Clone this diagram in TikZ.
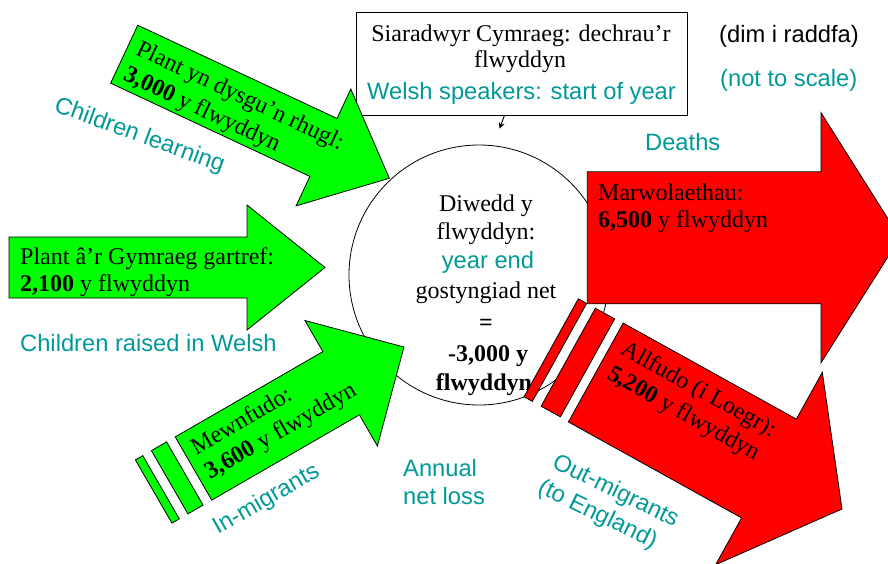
\documentclass[tikz,border=0pt]{standalone}
\usepackage{fontspec}
\setmainfont{Liberation Serif}
\setsansfont{Liberation Sans}
\usetikzlibrary{arrows.meta}
\definecolor{arrowgreen}{RGB}{0,255,0}
\definecolor{arrowred}{RGB}{255,0,0}
\definecolor{tealtxt}{RGB}{0,153,153}
\newcommand\fatarrow[5]{\draw[#1] (0,-#2) -- (#3,-#2) -- (#3,-#4) -- (#5,0) -- (#3,#4) -- (#3,#2) -- (0,#2) -- cycle;}
\tikzset{
  outline/.style={draw=black, line width=0.8pt, line join=miter},
  greenarrow/.style={outline, fill=arrowgreen},
  redarrow/.style={outline, fill=arrowred},
  cy/.style={font=\fontsize{24}{28}\selectfont, inner sep=0pt, text=black},
  en/.style={font=\sffamily\fontsize{23.7}{28}\selectfont, inner sep=0pt, text=tealtxt},
  note/.style={font=\sffamily\fontsize{23.7}{28}\selectfont, inner sep=0pt, text=black},
}
\begin{document}
\begin{tikzpicture}[x=1pt,y=-1pt]
\useasboundingbox (0,0) rectangle (888,563);
\clip (0,0) rectangle (888,563);
% central pool
\node[draw, line width=0.8pt, circle, minimum size=260pt, inner sep=0pt, fill=white] (pool) at (479,275) {};
\node[cy, anchor=base] (c1) at (486,211.7) {Diwedd y};
\node[cy, anchor=base] (c2) at (486,239.3) {flwyddyn:};
\node[en, anchor=base] (c3) at (488,268.3) {year end};
\node[cy, anchor=base] (c4) at (486,298.3) {gostyngiad net};
\node[cy, anchor=base] (c5) at (486,330) {\textbf{=}};
\node[cy, anchor=base] (c6) at (488,361.7) {\textbf{-3,000 y}};
\node[cy, anchor=base] (c7) at (484,390) {\textbf{flwyddyn}};
% start-of-year box
\node[draw, line width=0.8pt, minimum width=331pt, minimum height=103pt, inner sep=0pt, fill=white] (box) at (521.5,63.5) {};
\node[cy, anchor=base] (b1) at (521,41.3) {Siaradwyr Cymraeg: dechrau’r};
\node[cy, anchor=base] (b2) at (520,67) {flwyddyn};
\node[en, anchor=base] (b3) at (521.5,99) {Welsh speakers: start of year};
\coordinate (ptrend) at (499.5,128.5);
\draw[line width=0.9pt, -{Stealth[length=6pt,width=6pt]}] ([xshift=-17pt]box.south) -- (ptrend);
% children learning
\begin{scope}[shift={(124.2,54.2)}, rotate=-25.08]
  \fatarrow{greenarrow}{32}{220}{64.5}{292.7}
  \node[cy, anchor=base west, rotate=-25.08] (l1) at (9.5,-4.5) {Plant yn dysgu’n rhugl:};
  \node[cy, anchor=base west, rotate=-25.08] (l2) at (9,24) {\textbf{3,000} y flwyddyn};
\end{scope}
% children raised in Welsh
\begin{scope}[shift={(9,267.5)}]
  \fatarrow{greenarrow}{30.5}{238}{62.5}{316}
  \node[cy, anchor=base west] (h1) at (11,-3.5) {Plant â’r Gymraeg gartref:};
  \node[cy, anchor=base west] (h2) at (11,23.5) {\textbf{2,100} y flwyddyn};
\end{scope}
% in-migrants
\begin{scope}[shift={(193.5,468.5)}, rotate=30]
  \draw[greenarrow] (-46,-36.5) rectangle (-37.5,36.5);
  \draw[greenarrow] (-27.5,-36.5) rectangle (-10,36.5);
  \fatarrow{greenarrow}{36.5}{170.5}{72.5}{243}
  \node[cy, anchor=base west, rotate=30] (m1) at (9,-10) {Mewnfudo:};
  \node[cy, anchor=base west, rotate=30] (m2) at (9,18) {\textbf{3,600} y flwyddyn};
\end{scope}
% deaths
\begin{scope}[shift={(587.3,237.75)}]
  \fatarrow{redarrow}{66}{233.7}{125}{312.7}
\end{scope}
\node[cy, anchor=base west] (d1) at (598,200) {Marwolaethau:};
\node[cy, anchor=base west] (d2) at (598,227) {\textbf{6,500} y flwyddyn};
% out-migrants
\begin{scope}[shift={(595.8,372.5)}, rotate=-29]
  \draw[redarrow] (-51,-56) rectangle (-41.5,56);
  \draw[redarrow] (-31.5,-56) rectangle (-9.5,56);
  \fatarrow{redarrow}{56.5}{198}{110}{281.5}
  \node[cy, anchor=base west, rotate=-29] (o1) at (11.5,-28) {Allfudo (i Loegr):};
  \node[cy, anchor=base west, rotate=-29] (o2) at (11.5,0) {\textbf{5,200} y flwyddyn};
\end{scope}
% English labels and notes
\node[note, anchor=base west] (n1) at (719,42) {(dim i raddfa)};
\node[en, anchor=base west] (n2) at (720,86) {(not to scale)};
\node[en, anchor=base west] (e1) at (645,150) {Deaths};
\node[en, anchor=base west, rotate=-20] (e2) at (53,111) {Children learning};
\node[en, anchor=base west] (e3) at (20,351) {Children raised in Welsh};
\node[en, anchor=base west, rotate=30] (e4) at (218,535) {In-migrants};
\node[en, anchor=base west] (e5) at (403,476.7) {Annual};
\node[en, anchor=base west] (e6) at (403,504) {net loss};
\node[en, anchor=base west, rotate=-26] (e7) at (551,467) {Out-migrants};
\node[en, anchor=base west, rotate=-26] (e8) at (536.5,492) {(to England)};
\end{tikzpicture}
\end{document}
